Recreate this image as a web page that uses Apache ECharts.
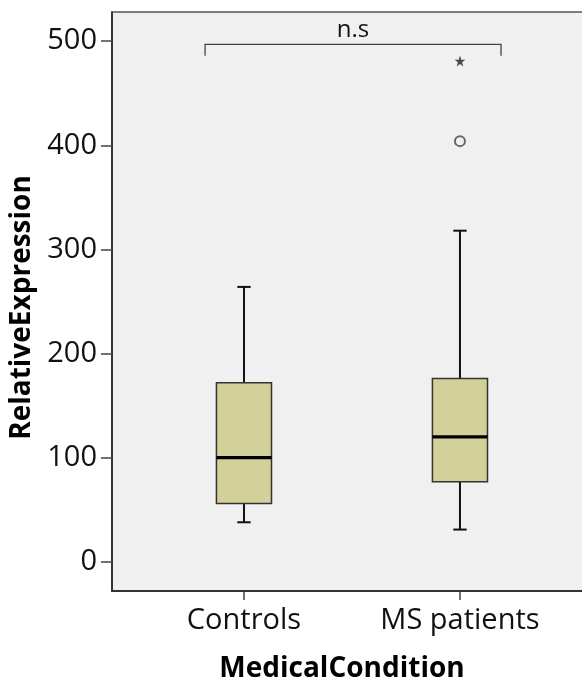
<!DOCTYPE html>
<html><head><meta charset="utf-8">
<script src="https://cdn.jsdelivr.net/npm/echarts@6/dist/echarts.min.js"></script>
<style>html,body{margin:0;padding:0;background:#fff}#c{width:582px;height:684px}</style>
</head><body><div id="c"></div>
<script>
// Categories and box statistics: [low whisker, Q1, median, Q3, high whisker]
const categories = ['Controls', 'MS patients'];
const boxStats = [
  [38, 56, 100, 172, 264],
  [31, 77, 120, 176, 318]
];
// Outliers: [category index, value]
const circleOutliers = [[1, 404]];
const starOutliers = [[1, 481]];
const yTicks = [0, 100, 200, 300, 400, 500];
// significance bracket (x from/to in category units, y bottom/top in data units)
const bracketX = [-0.18, 1.19];
const bracketY = [486, 497];
const bracketText = 'n.s';

const FONT = 'Open Sans';
const chart = echarts.init(document.getElementById('c'));

const boxData = boxStats.map((s, i) => [i].concat(s));

chart.setOption({
  animation: false,
  backgroundColor: '#ffffff',
  grid: {left: 112, top: 12, right: 0, bottom: 93, show: true, outerBoundsMode: 'none',
         containLabel: false, backgroundColor: '#f0f0f0', borderWidth: 0, borderColor: 'transparent'},
  xAxis: [{
    type: 'value', min: -0.611, max: 1.565,
    name: 'MedicalCondition', nameLocation: 'middle', nameGap: 64,
    nameTextStyle: {fontFamily: FONT, fontWeight: 'bold', fontSize: 28, color: '#000', padding: [0, 10, 0, 0]},
    axisLine: {show: true, onZero: false, lineStyle: {color: '#333', width: 2}},
    axisTick: {show: true, customValues: [0, 1], length: 9, lineStyle: {color: '#444', width: 1.5}},
    axisLabel: {customValues: [0, 1], formatter: v => categories[Math.round(v)],
                fontFamily: FONT, fontSize: 29, color: '#111', margin: 15},
    splitLine: {show: false}
  }, {
    type: 'value', position: 'top', min: -0.611, max: 1.565,
    axisLine: {show: true, onZero: false, lineStyle: {color: '#555', width: 1.5}},
    axisTick: {show: false}, axisLabel: {show: false}, splitLine: {show: false}
  }],
  yAxis: {
    type: 'value', min: -28, max: 528,
    name: 'RelativeExpression', nameLocation: 'middle', nameGap: 60,
    nameTextStyle: {fontFamily: FONT, fontWeight: 'bold', fontSize: 28, color: '#000', padding: [0, 12, 0, 0]},
    axisLine: {show: true, onZero: false, lineStyle: {color: '#333', width: 2}},
    axisTick: {show: true, customValues: yTicks, length: 11, lineStyle: {color: '#444', width: 1.5}},
    axisLabel: {customValues: yTicks, fontFamily: FONT, fontSize: 29, color: '#111', margin: 15},
    splitLine: {show: false}
  },
  series: [
    {
      type: 'custom',
      data: boxData,
      encode: {x: 0, y: [1, 2, 3, 4, 5]},
      renderItem: function (params, api) {
        const x = api.value(0);
        const lo = api.coord([x, api.value(1)]);
        const q1 = api.coord([x, api.value(2)]);
        const md = api.coord([x, api.value(3)]);
        const q3 = api.coord([x, api.value(4)]);
        const hi = api.coord([x, api.value(5)]);
        const bw = api.size([0.255, 0])[0];
        const cw = api.size([0.062, 0])[0];
        const cx = lo[0];
        const ls = {stroke: '#111', lineWidth: 2};
        return {
          type: 'group',
          children: [
            {type: 'line', shape: {x1: cx, y1: hi[1], x2: cx, y2: q3[1]}, style: ls},
            {type: 'line', shape: {x1: cx, y1: lo[1], x2: cx, y2: q1[1]}, style: ls},
            {type: 'line', shape: {x1: cx - cw / 2, y1: hi[1], x2: cx + cw / 2, y2: hi[1]}, style: ls},
            {type: 'line', shape: {x1: cx - cw / 2, y1: lo[1], x2: cx + cw / 2, y2: lo[1]}, style: ls},
            {type: 'rect', shape: {x: cx - bw / 2, y: q3[1], width: bw, height: q1[1] - q3[1]},
             style: {fill: '#d4d099', stroke: '#333', lineWidth: 1.5}},
            {type: 'line', shape: {x1: cx - bw / 2, y1: md[1], x2: cx + bw / 2, y2: md[1]},
             style: {stroke: '#000', lineWidth: 3.2}}
          ]
        };
      }
    },
    {
      type: 'scatter', data: circleOutliers, symbol: 'circle', symbolSize: 10,
      itemStyle: {color: 'transparent', borderColor: '#444', borderWidth: 2}
    },
    {
      type: 'scatter', data: starOutliers, symbolSize: 11,
      symbol: 'path://M50,0 L61,35 L98,35 L68,57 L79,91 L50,70 L21,91 L32,57 L2,35 L39,35 Z',
      itemStyle: {color: '#222'}
    },
    {
      type: 'custom',
      data: [[bracketX[0], bracketX[1], bracketY[0], bracketY[1]]],
      encode: {x: [0, 1], y: [2, 3]},
      renderItem: function (params, api) {
        const a = api.coord([api.value(0), api.value(2)]);
        const b = api.coord([api.value(0), api.value(3)]);
        const c = api.coord([api.value(1), api.value(3)]);
        const d = api.coord([api.value(1), api.value(2)]);
        return {
          type: 'group',
          children: [
            {type: 'polyline', shape: {points: [a, b, c, d]},
             style: {stroke: '#444', lineWidth: 1.3, fill: null}},
            {type: 'text', style: {text: bracketText, x: (b[0] + c[0]) / 2, y: b[1] - 2,
              align: 'center', verticalAlign: 'bottom', fontFamily: FONT, fontSize: 24, fill: '#111'}}
          ]
        };
      }
    }
  ]
});
</script></body></html>
